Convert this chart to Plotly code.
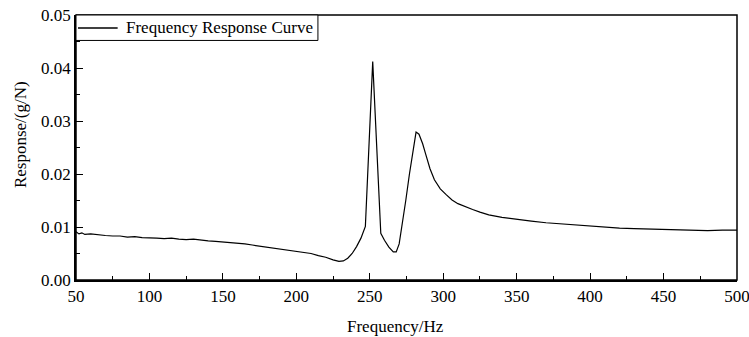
import plotly.graph_objects as go

freq = [50, 52, 54, 56, 60, 65, 70, 75, 80, 85, 90, 95, 100, 105, 110, 115, 120, 125, 130,
        135, 140, 145, 150, 155, 160, 165, 170, 175, 180, 185, 190, 195, 200, 205, 210, 215,
        220, 225, 229, 232, 235, 238, 241, 244, 247, 252, 257.5, 260, 263, 266, 268, 270,
        272, 274.5, 277, 279.5, 281.5, 283.5, 286, 288, 291, 294, 298, 302, 306, 310, 315,
        320, 325, 331, 340, 350, 360, 370, 380, 390, 400, 410, 420, 430, 440, 450, 460, 470,
        480, 490, 500]
response = [0.0091, 0.0087, 0.0089, 0.0086, 0.0087, 0.0085, 0.0084, 0.0083, 0.0083, 0.0081,
            0.0082, 0.0080, 0.0080, 0.0079, 0.0078, 0.0079, 0.0077, 0.0076, 0.0077, 0.0075,
            0.0074, 0.0073, 0.0072, 0.0071, 0.0069, 0.0068, 0.0066, 0.0064, 0.0062, 0.0061,
            0.0059, 0.0057, 0.0055, 0.0053, 0.0050, 0.0046, 0.0043, 0.0038, 0.0035, 0.0036,
            0.0041, 0.0050, 0.0063, 0.0079, 0.0101, 0.0412, 0.0088, 0.0075, 0.0062, 0.0053,
            0.0053, 0.0068, 0.0103, 0.0150, 0.0200, 0.0245, 0.0279, 0.0275, 0.0257, 0.0238,
            0.0210, 0.0189, 0.0172, 0.0161, 0.0151, 0.0144, 0.0138, 0.0133, 0.0128, 0.0123,
            0.0118, 0.0114, 0.0111, 0.0108, 0.0106, 0.0103, 0.0101, 0.0099, 0.0098, 0.0097,
            0.0096, 0.0095, 0.0094, 0.0094, 0.0093, 0.0094, 0.0094]

x_ticks = [50, 100, 150, 200, 250, 300, 350, 400, 450, 500]
y_ticks = [0.00, 0.01, 0.02, 0.03, 0.04, 0.05]
series_name = "Frequency Response Curve"
x_title = "Frequency/Hz"
y_title = "Response/(g/N)"

FONT = "Liberation Serif, Times New Roman, serif"
FS = 17

fig = go.Figure()
fig.add_trace(go.Scatter(x=freq, y=response, mode="lines", name=series_name,
                         line=dict(color="black", width=1.2), showlegend=False))

axis_common = dict(showline=True, linecolor="black", linewidth=1.5, mirror=False,
                   ticks="inside", tickcolor="black", tickwidth=1, ticklen=7,
                   showgrid=False, zeroline=False, automargin=False,
                   ticklabeloverflow="allow",
                   tickfont=dict(family=FONT, size=FS, color="black"))

fig.update_xaxes(range=[50, 500], tickvals=x_ticks, ticktext=[str(v) for v in x_ticks],
                 minor=dict(ticks="inside", ticklen=4, tickwidth=1, tickcolor="black", dtick=25),
                 **axis_common)
fig.update_yaxes(range=[0, 0.05], tickvals=y_ticks, ticktext=[f"{v:.2f}" for v in y_ticks],
                 minor=dict(ticks="inside", ticklen=4, tickwidth=1, tickcolor="black", dtick=0.005),
                 **axis_common)

# axis titles
fig.add_annotation(xref="paper", yref="paper", x=0.4834, y=-0.1736, xanchor="center",
                   yanchor="middle", text=x_title, showarrow=False,
                   font=dict(family=FONT, size=FS, color="black"))
fig.add_annotation(xref="paper", yref="paper", x=-0.0847, y=0.547, xanchor="center",
                   yanchor="middle", text=y_title, showarrow=False, textangle=-90,
                   font=dict(family=FONT, size=FS, color="black"))

# frame (top and right borders, no ticks)
fig.add_shape(type="rect", xref="paper", yref="paper", x0=0, x1=1, y0=0, y1=1,
              line=dict(color="black", width=1.5), layer="above")

# legend box drawn manually
fig.add_shape(type="rect", xref="paper", yref="paper", x0=0, x1=0.366, y0=0.904, y1=1,
              line=dict(color="black", width=1), fillcolor="white", layer="above")
fig.add_shape(type="line", xref="paper", yref="paper", x0=0.003, x1=0.063, y0=0.951, y1=0.951,
              line=dict(color="black", width=1.3), layer="above")
fig.add_annotation(xref="paper", yref="paper", x=0.0726, y=0.951, xanchor="left", yanchor="middle",
                   text=series_name, showarrow=False,
                   font=dict(family=FONT, size=FS, color="black"))

fig.update_layout(
    width=749, height=337,
    margin=dict(l=76, r=12, t=15, b=57),
    paper_bgcolor="white", plot_bgcolor="white",
    font=dict(family=FONT, size=FS, color="black"),
    showlegend=False,
)

fig.write_html("out.html")
